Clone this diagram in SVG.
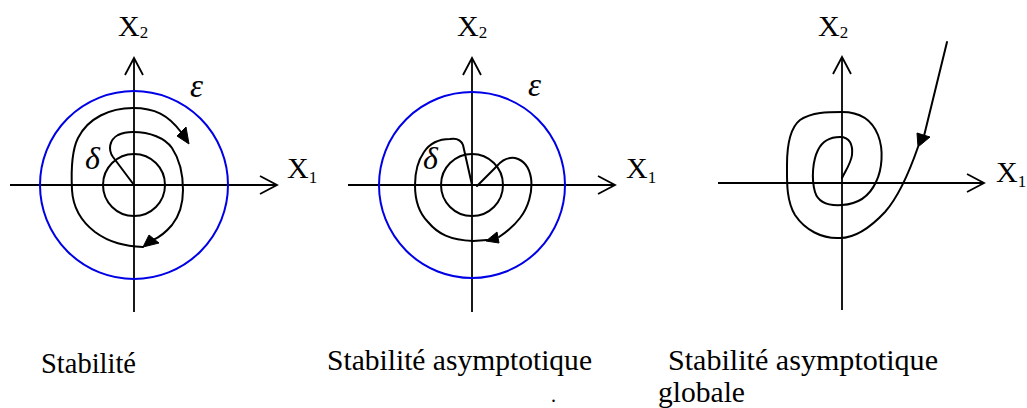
<svg xmlns="http://www.w3.org/2000/svg" width="1027" height="408" viewBox="0 0 1027 408">
<style>
.ax{fill:none;stroke:#000;stroke-width:1.8}
.tr{fill:none;stroke:#000;stroke-width:2;stroke-linejoin:round;stroke-linecap:round}
.eps{fill:none;stroke:#0000e6;stroke-width:2}
.ah{fill:#000;stroke:#000;stroke-width:1}
.lb{font-family:"Liberation Serif","Times New Roman",serif;fill:#000}
.gr{font-family:"Liberation Serif","Times New Roman",serif;font-style:italic;fill:#000}
</style>
<rect width="1027" height="408" fill="#fff"/>

<g id="panel1">
  <g id="axes1">
    <line class="ax" x1="10" y1="185" x2="277" y2="185"/>
    <polyline class="ax" points="260,176 277,185 260,194"/>
    <line class="ax" x1="134" y1="312" x2="134" y2="58"/>
    <polyline class="ax" points="125,75 134,58 143,75"/>
  </g>
  <circle class="eps" cx="134" cy="185" r="94"/>
  <circle class="tr" cx="134" cy="185" r="31"/>
  <path class="tr" d="M134,185 L113,157 C108,150 109,140 118,135 C124,132 128,132 133,132 C150,132 165,138 172,148 C180,160 183,175 183,190 C183,205 180,215 172,225 C166,232 160,237 153,240"/>
  <polygon class="ah" points="143,247 149,235 159,243"/>
  <path class="tr" d="M143,247 C125,246 110,243 95,232 C82,222 73,208 72,190 C71,170 72,150 78,138 C88,118 110,108 133,108 C155,108 168,115 181,132"/>
  <polygon class="ah" points="189,144 177,136 186,127"/>
  <text class="lb" x="118" y="36" font-size="30">X<tspan font-size="17" dy="2">2</tspan></text>
  <text class="lb" x="287" y="178" font-size="30">X<tspan font-size="17" dy="5">1</tspan></text>
  <text class="gr" x="190" y="97" font-size="33">ε</text>
  <text class="gr" x="85" y="169" font-size="32">δ</text>
  <text class="lb" x="41" y="373" font-size="30" textLength="95" lengthAdjust="spacingAndGlyphs">Stabilité</text>
</g>

<g id="panel2">
  <g id="axes2">
    <line class="ax" x1="348" y1="185" x2="615" y2="185"/>
    <polyline class="ax" points="598,176 615,185 598,194"/>
    <line class="ax" x1="472" y1="312" x2="472" y2="58"/>
    <polyline class="ax" points="463,75 472,58 481,75"/>
  </g>
  <circle class="eps" cx="472" cy="185" r="93"/>
  <circle class="tr" cx="472" cy="185" r="31"/>
  <path class="tr" d="M472,185 L463,145 C461,140 456,138 450,139 C440,139 430,143 424,152 C417,162 415,172 415,185 C415,200 418,212 428,222 C438,234 450,240 473,241 L487,240"/>
  <path class="tr" d="M477,186 L497,166 C502,160 508,157 515,158 C523,160 529,166 531,178 C533,192 528,208 520,218 C514,226 508,231 499,237"/>
  <polygon class="ah" points="486,241 497,232 499,243"/>
  <text class="lb" x="457" y="36" font-size="30">X<tspan font-size="17" dy="2">2</tspan></text>
  <text class="lb" x="626" y="178" font-size="30">X<tspan font-size="17" dy="5">1</tspan></text>
  <text class="gr" x="528" y="96" font-size="33">ε</text>
  <text class="gr" x="423" y="169" font-size="32">δ</text>
  <text class="lb" x="327" y="370" font-size="30" textLength="265" lengthAdjust="spacingAndGlyphs">Stabilité asymptotique</text>
  <text class="lb" x="551" y="402" font-size="20">.</text>
</g>

<g id="panel3">
  <g id="axes3">
    <line class="ax" x1="718" y1="183" x2="984" y2="183"/>
    <polyline class="ax" points="967,174 984,183 967,192"/>
    <line class="ax" x1="842" y1="310" x2="842" y2="57"/>
    <polyline class="ax" points="833,74 842,57 851,74"/>
  </g>
  <path class="tr" d="M947,42 L924,136"/>
  <polygon class="ah" points="918,147 917,133 930,137"/>
  <path class="tr" d="M918,147 C910,170 900,195 885,212 C870,228 855,238 840,238 C822,239 805,230 795,215 C786,200 787,180 787,165 C787,145 790,128 800,120 C812,112 828,112 842,112 C860,112 872,120 878,135 C884,150 882,170 876,182 C870,195 860,204 842,205 C828,206 818,202 815,192 C811,178 813,160 818,150 C823,140 832,137 840,137 C850,137 853,145 852,155 C851,163 846,170 842,178"/>
  <text class="lb" x="818" y="36" font-size="30">X<tspan font-size="17" dy="2">2</tspan></text>
  <text class="lb" x="996" y="182" font-size="30">X<tspan font-size="17" dy="5">1</tspan></text>
  <text class="lb" x="668" y="370" font-size="30" textLength="270" lengthAdjust="spacingAndGlyphs">Stabilité asymptotique</text>
  <text class="lb" x="658" y="402" font-size="30" textLength="87" lengthAdjust="spacingAndGlyphs">globale</text>
</g>
</svg>
